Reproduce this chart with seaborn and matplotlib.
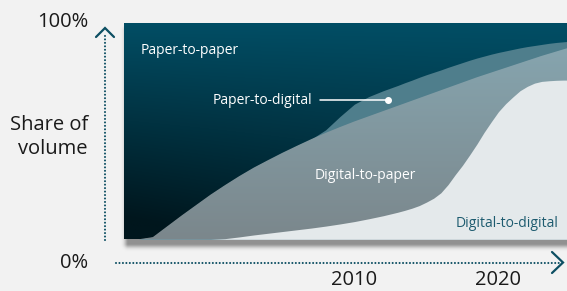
import numpy as np
import matplotlib.pyplot as plt
import seaborn as sns
from matplotlib.colors import to_rgb
from matplotlib.transforms import blended_transform_factory

# share of volume by year, layers listed bottom -> top
years = [1994, 1995, 1996, 1997, 1998, 1999, 2000, 2001, 2002, 2003, 2004, 2005, 2006,
	2007, 2008, 2009, 2010, 2011, 2012, 2013, 2013.5, 2014, 2014.5, 2015, 2015.5, 2016,
	2016.5, 2017, 2017.5, 2018, 2018.5, 2019, 2019.5, 2020, 2020.5, 2021, 2021.5, 2022,
	2022.5, 2023, 2023.5, 2024, 2024.5, 2025]
digital_to_digital = [0, 0, 0, 0, 0, 0, 0, 0.003, 0.011, 0.02, 0.028, 0.036, 0.044,
	0.052, 0.061, 0.071, 0.082, 0.095, 0.109, 0.125, 0.134, 0.144, 0.156, 0.172, 0.19, 0.215,
	0.253, 0.299, 0.342, 0.39, 0.44, 0.494, 0.543, 0.59, 0.627, 0.658, 0.687, 0.707,
	0.722, 0.73, 0.733, 0.735, 0.736, 0.736]
digital_to_paper = [0, 0, 0.01, 0.06, 0.11, 0.158, 0.206, 0.247, 0.281, 0.311, 0.338, 0.364, 0.388,
	0.411, 0.431, 0.448, 0.463, 0.474, 0.484, 0.492, 0.495, 0.497, 0.497, 0.493, 0.487, 0.474,
	0.448, 0.414, 0.383, 0.347, 0.309, 0.266, 0.228, 0.192, 0.166, 0.146, 0.128, 0.119,
	0.115, 0.118, 0.125, 0.133, 0.142, 0.152]
paper_to_digital = [0, 0, 0, 0, 0, 0, 0, 0, 0, 0, 0, 0, 0,
	0, 0.014, 0.049, 0.08, 0.091, 0.094, 0.094, 0.095, 0.095, 0.096, 0.096, 0.095, 0.094,
	0.094, 0.093, 0.092, 0.091, 0.089, 0.087, 0.085, 0.082, 0.078, 0.074, 0.07, 0.065,
	0.059, 0.053, 0.048, 0.042, 0.035, 0.028]
paper_to_paper = [1, 1, 0.99, 0.94, 0.89, 0.842, 0.794, 0.75, 0.708, 0.669, 0.634, 0.6, 0.568,
	0.537, 0.494, 0.432, 0.375, 0.34, 0.313, 0.289, 0.276, 0.264, 0.251, 0.239, 0.228, 0.217,
	0.205, 0.194, 0.183, 0.172, 0.162, 0.153, 0.144, 0.136, 0.129, 0.122, 0.115, 0.109,
	0.104, 0.099, 0.094, 0.09, 0.087, 0.084]
tick_years = [2010, 2020]
tick_labels = ["2010", "2020"]

sns.set_theme(style='white')
plt.rcParams['font.family'] = ['Open Sans', 'DejaVu Sans']

teal = '#0d4f63'
fig = plt.figure(figsize=(5.67, 2.91), dpi=100)
fig.patch.set_facecolor('#f2f2f2')

# background layer in pixel coords: shadow, arrows, labels
bg = fig.add_axes([0, 0, 1, 1], zorder=0)
bg.set_xlim(0, 567)
bg.set_ylim(291, 0)
bg.axis('off')
yy, xx = np.mgrid[0:291, 0:567]
dx = np.maximum.reduce([128 - xx, np.zeros_like(xx), xx - 575])
dy = np.maximum.reduce([30 - yy, np.zeros_like(yy), yy - 243])
d = np.hypot(dx, dy)
shadow = np.zeros((291, 567, 4))
shadow[..., 3] = 0.4 * np.exp(-(d / 4.0) ** 2)
bg.imshow(shadow, extent=(0, 567, 291, 0), aspect='auto', interpolation='bilinear')

dots = dict(color=teal, lw=1.5, linestyle=(0, (0.01, 1.65)), dash_capstyle='round')
bg.plot([105, 105], [240, 33], **dots)
bg.plot([116, 560], [262.5, 262.5], **dots)
bg.plot([96, 105, 114], [37, 28, 37], color=teal, lw=1.6, solid_joinstyle='miter')
bg.plot([552, 563, 552], [252, 262.5, 273], color=teal, lw=1.6, solid_joinstyle='miter')

txt = dict(color='#1a1a1a', fontsize=14.5, ha='right', va='center')
bg.text(88, 22, "100%", **txt)
bg.text(88, 263, "0%", **txt)
bg.text(88, 137, "Share of\nvolume", **txt)

# main panel
ax = fig.add_axes([124 / 567, (291 - 239.3) / 291, 443 / 567, 216.3 / 291], zorder=2)
ax.axis('off')

layers = np.array([digital_to_digital, digital_to_paper, paper_to_digital, paper_to_paper])
tops = np.cumsum(layers, axis=0)

def grad(c_top, c_bot, h=200, w=300, side=0.0):
	t = np.linspace(0, 1, h)[:, None]
	u = np.linspace(0, 1, w)[None, :]
	k = np.clip(t * (1 - side) + t * side * (1 - u) * 1.3, 0, 1)[..., None]
	a, b = np.array(to_rgb(c_top)), np.array(to_rgb(c_bot))
	return a * (1 - k) + b * k

# paint top layer first, each filled down to zero, so no seams between layers
p2p = ax.fill_between(years, 0, tops[3], color='#023f52', lw=0, zorder=1)
im = ax.imshow(grad('#024e65', '#00161d', side=0.35), extent=(1994, 2025, 0, 1),
	aspect='auto', zorder=1.5, interpolation='bilinear')
im.set_clip_path(p2p.get_paths()[0], transform=ax.transData)
ax.fill_between(years, 0, tops[2], color='#4f7e8c', lw=0, zorder=2)
d2p = ax.fill_between(years, 0, tops[1], color='#80979f', lw=0, zorder=3)
im2 = ax.imshow(grad('#86a5af', '#7b878c'), extent=(1994, 2025, 0, 0.9),
	aspect='auto', zorder=3.5, interpolation='bilinear')
im2.set_clip_path(d2p.get_paths()[0], transform=ax.transData)
ax.fill_between(years, 0, tops[0], color='#e4e9eb', lw=0, zorder=4)
ax.set_xlim(1994, 2024.76)
ax.set_ylim(0, 1)

lab = dict(color='white', fontsize=10, va='center', zorder=5)
ax.text(1995.16, 0.872, "Paper-to-paper", ha='left', **lab)
ax.text(2007.1, 0.644, "Paper-to-digital", ha='right', **lab)
ax.text(2010.74, 0.293, "Digital-to-paper", ha='center', **lab)
ax.text(2024.14, 0.071, "Digital-to-digital", ha='right', color='#1d5b6f', fontsize=10,
	va='center', zorder=5)
ax.plot([2007.6, 2012.33], [0.644, 0.644], color='white', lw=1.1, zorder=5)
ax.plot([2012.33], [0.644], 'o', color='white', ms=4, zorder=5)

# year labels under the arrow
tr = blended_transform_factory(ax.transData, fig.transFigure)
for yr, lbl in zip(tick_years, tick_labels):
	fig.text(yr, 1 - 280 / 291, lbl, transform=tr, ha='center', va='center',
		fontsize=14.5, color='#1a1a1a')

fig.savefig('out.png', dpi=100, facecolor=fig.get_facecolor())
